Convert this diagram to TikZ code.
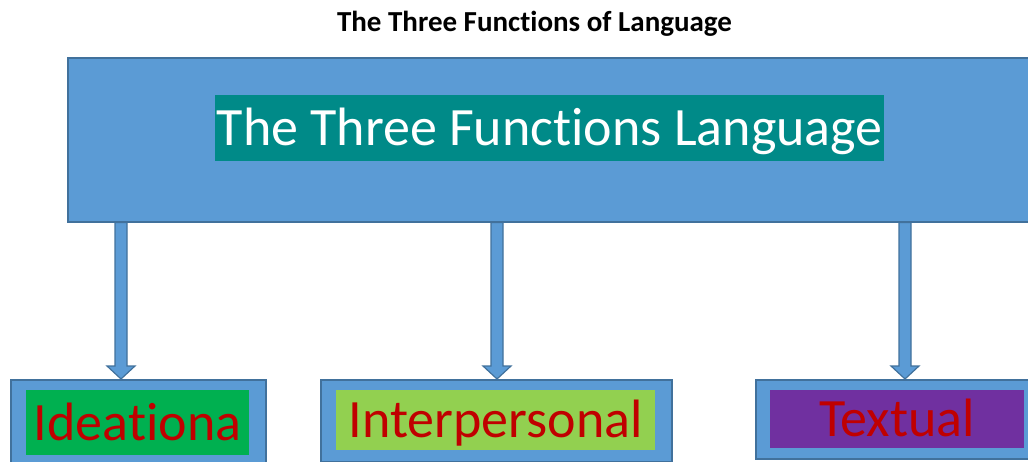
\documentclass[tikz,border=0pt]{standalone}
\usepackage{fontspec}
\setmainfont{Carlito}[Ligatures={NoCommon,NoRequired,NoContextual}]
\usetikzlibrary{calc}
\definecolor{boxblue}{HTML}{5B9BD5}
\definecolor{boxedge}{HTML}{41719C}
\definecolor{tealbg}{HTML}{008A88}
\definecolor{idgreen}{HTML}{00B050}
\definecolor{ipgreen}{HTML}{92D050}
\definecolor{txpurple}{HTML}{7030A0}
\definecolor{labred}{HTML}{C00000}
\newcommand\blockarrow[3]{%
  \draw[blockarr]
    ([xshift=-6pt]#2.south -| #1) --
    ([xshift=-6pt,yshift=13pt]#3.north -| #1) --
    ([xshift=-14pt,yshift=13pt]#3.north -| #1) --
    (#3.north -| #1) --
    ([xshift=14pt,yshift=13pt]#3.north -| #1) --
    ([xshift=6pt,yshift=13pt]#3.north -| #1) --
    ([xshift=6pt]#2.south -| #1) -- cycle;}
\begin{document}
\begin{tikzpicture}[x=1pt,y=-1pt,
  frame/.style={draw=boxedge, fill=boxblue, line width=1.6pt, inner sep=0pt, anchor=north west},
  inner/.style={inner sep=0pt, anchor=north west, text=labred,
    font=\fontsize{54}{60}\selectfont, text height=35pt, text depth=0pt},
  blockarr/.style={draw=boxedge, fill=boxblue, line width=1.2pt, line join=miter}]
\useasboundingbox (0,0) rectangle (1028,462);
\node[anchor=base, font=\bfseries\fontsize{29}{34}\selectfont] (title) at (534.5,32) {The Three Functions of Language};
\node[frame, minimum width=980pt, minimum height=164pt] (top) at (67,57) {};
\node[inner sep=0pt, anchor=north west, fill=tealbg, text=white, minimum width=669pt, minimum height=66pt,
  font=\fontsize{54}{60}\selectfont, text height=35pt, text depth=0pt] (toplabel) at (215,95) {The Three Functions Language};
\node[frame, minimum width=255pt, minimum height=86pt] (ideal) at (10,379) {};
\node[inner, fill=idgreen, minimum width=223pt, minimum height=65pt] (idlabel) at (26,390) {Ideationa};
\node[frame, minimum width=351pt, minimum height=82pt] (inter) at (320,379) {};
\node[inner, fill=ipgreen, minimum width=319pt, minimum height=60pt] (iplabel) at (336,390) {Interpersonal};
\node[frame, minimum width=290pt, minimum height=79pt] (textual) at (755,379) {};
\node[inner, fill=txpurple, minimum width=254pt, minimum height=58pt] (txlabel) at (770,390) {Textual};
\coordinate (a1) at (121,0);
\coordinate (a2) at (497,0);
\coordinate (a3) at (905,0);
\blockarrow{a1}{top}{ideal}
\blockarrow{a2}{top}{inter}
\blockarrow{a3}{top}{textual}
\end{tikzpicture}
\end{document}
